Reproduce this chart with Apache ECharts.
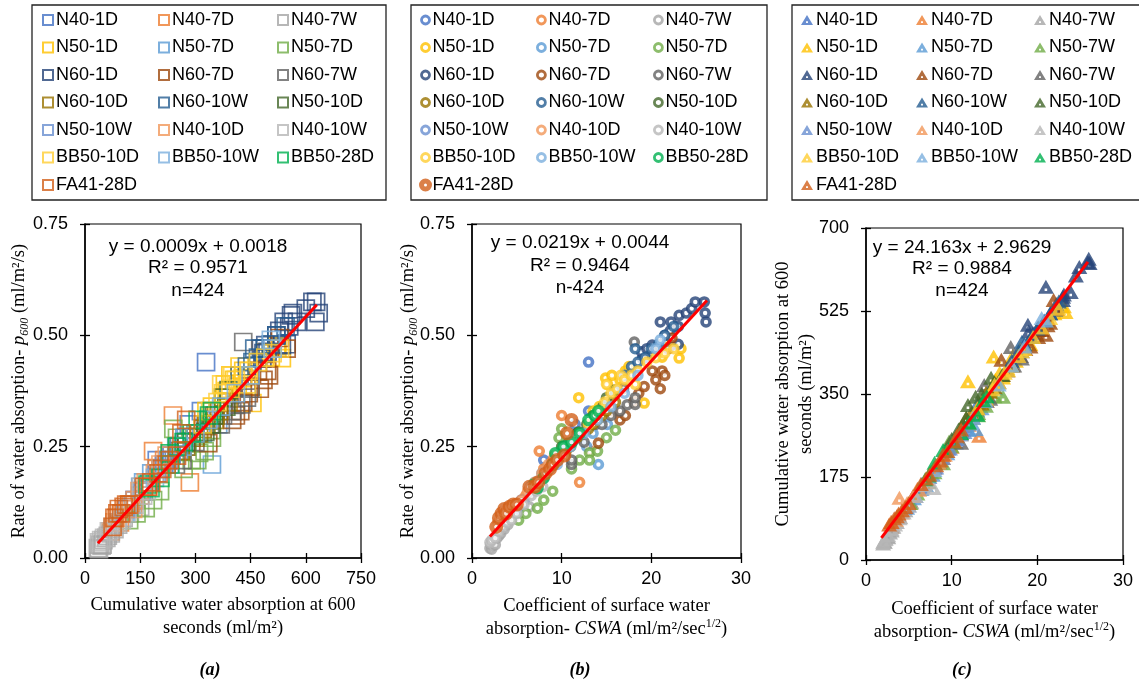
<!DOCTYPE html>
<html><head><meta charset="utf-8">
<script src="https://cdn.jsdelivr.net/npm/echarts@6/dist/echarts.min.js"></script>
<style>
html,body{margin:0;padding:0;background:#fff;}
#wrap{position:relative;width:1139px;height:686px;overflow:hidden;background:#fff;}
.pane{position:absolute;top:0;height:686px;}
</style></head>
<body>
<div id="wrap">
  <div id="pa" class="pane" style="left:0;width:390px;"></div>
  <div id="pb" class="pane" style="left:390px;width:380px;"></div>
  <div id="pc" class="pane" style="left:750px;width:389px;"></div>
</div>
<script>
// ---- series names (Excel order) ----
const SERIES_NAMES = ['N40-1D','N40-7D','N40-7W','N50-1D','N50-7D','N50-7W','N60-1D','N60-7D','N60-7W',
  'N60-10D','N60-10W','N50-10D','N50-10W','N40-10D','N40-10W','BB50-10D','BB50-10W','BB50-28D','FA41-28D'];

// ---- sample values: [CSWA (ml/m2/sec^1/2), cumulative absorption at 600 s (ml/m2), rate p600 (ml/m2/s)] ----
const N40_1D = [[5.5,135,0.13],[6.5,160,0.15],[7.2,175,0.17],[8.0,195,0.22],[8.8,215,0.21],[9.6,235,0.23],
  [10.4,255,0.24],[11.2,270,0.26],[11.5,282,0.30],[12.0,290,0.27],[13.0,329,0.44],[13.0,315,0.33],[14.0,335,0.31]];
const N40_7D = [[3.0,70,0.06],[3.8,95,0.08],[4.5,110,0.11],[5.2,125,0.12],[6.0,150,0.14],[7.0,170,0.16],
  [7.5,185,0.24],[8.0,195,0.20],[9.0,215,0.22],[10.0,239,0.32],[12.0,285,0.17],[13.2,262,0.24]];
const N40_7W = [[2.0,35,0.022],[2.1,40,0.03],[2.2,38,0.02],[2.3,45,0.028],[2.5,50,0.04],[2.6,48,0.03],
  [2.8,58,0.045],[3.0,62,0.05],[3.2,70,0.055],[3.6,80,0.065],[4.0,90,0.075],[4.6,105,0.09],[5.3,122,0.10],
  [6.4,150,0.115]];
const N50_1D = [[11.9,377,0.36],[13.5,330,0.33],[14.2,345,0.34],[14.9,429,0.404],[15.1,380,0.39],[15.6,395,0.41],
  [16.0,385,0.375],[16.5,405,0.40],[16.8,415,0.385],[17.1,430,0.42],[17.5,420,0.43],[18.0,445,0.41],
  [19.2,455,0.348],[20.1,490,0.462],[21.2,505,0.451],[22.0,520,0.475],[23.1,535,0.449],[23.3,523,0.47]];
const N50_7D = [[4.8,110,0.10],[5.6,130,0.12],[6.5,150,0.16],[7.0,158,0.17],[7.8,180,0.19],[8.6,205,0.20],
  [9.5,225,0.22],[10.5,248,0.25],[12.0,274,0.27],[12.8,276,0.25],[14.1,345,0.21],[15.1,362,0.30],[13.5,320,0.28]];
const N50_7W = [[5.2,120,0.085],[6.0,140,0.10],[7.3,165,0.112],[8.0,185,0.13],[9.0,204,0.15],[9.7,250,0.27],
  [10.0,240,0.29],[11.1,268,0.20],[12.0,290,0.22],[13.1,310,0.236],[13.1,305,0.22],[14.0,325,0.24],
  [15.0,345,0.27],[16.0,344,0.287]];
const N60_1D = [[19.0,482,0.448],[18.9,496,0.463],[19.5,478,0.47],[20.1,485,0.46],[20.1,490,0.478],[21.0,576,0.53],
  [21.5,520,0.50],[22.1,528,0.51],[22.2,540,0.53],[22.3,535,0.478],[23.0,548,0.48],[23.0,555,0.52],
  [23.1,560,0.545],[23.9,565,0.55],[24.5,600,0.56],[24.9,618,0.575],[25.9,628,0.575],[26.0,635,0.55],
  [26.1,626,0.53]];
const N60_7D = [[14.1,335,0.258],[15.8,422,0.33],[16.5,400,0.31],[17.1,410,0.32],[18.0,430,0.35],[18.6,445,0.37],
  [19.2,450,0.385],[20.1,470,0.42],[21.0,475,0.38],[21.2,495,0.42],[21.5,500,0.41],[21.9,548,0.47],
  [22.3,530,0.494],[20.5,485,0.40]];
const N60_7W = [[11.1,247,0.21],[11.1,265,0.22],[12.5,300,0.26],[13.8,369,0.30],[14.5,340,0.30],[15.5,375,0.32],
  [16.5,400,0.33],[17.3,410,0.344],[18.2,425,0.345],[18.2,440,0.36],[16.9,449,0.38],[18.1,430,0.485]];
const N60_10D = [[10.5,260,0.24],[11.0,275,0.25],[11.7,300,0.27],[12.3,310,0.28],[13.0,320,0.29],[13.5,330,0.30],
  [14.0,352,0.31],[14.5,355,0.32],[15.0,365,0.33],[16.0,390,0.35]];
const N60_10W = [[17.0,420,0.41],[17.8,440,0.43],[18.5,455,0.44],[19.3,470,0.45],[20.0,488,0.47],[20.8,505,0.48],
  [21.5,520,0.50],[22.5,545,0.52],[18.2,460,0.47]];
const N50_10D = [[10.0,255,0.25],[10.8,275,0.26],[11.7,300,0.28],[11.9,327,0.283],[12.8,344,0.30],[13.5,350,0.32],
  [14.6,384,0.34],[15.0,375,0.36],[15.9,390,0.377]];
const N50_10W = [[5.0,115,0.11],[5.8,135,0.13],[6.6,155,0.15],[7.4,175,0.17],[8.2,195,0.19],[9.0,215,0.21],
  [9.8,235,0.23],[10.6,255,0.25],[11.5,270,0.27]];
const N40_10D = [[2.9,80,0.08],[3.5,85,0.09],[3.9,131,0.11],[4.2,100,0.10],[4.8,120,0.12],[5.5,135,0.13],
  [6.2,148,0.15],[7.0,165,0.17],[7.8,190,0.19],[8.5,205,0.21],[9.2,222,0.23]];
const N40_10W = [[2.0,38,0.035],[2.2,44,0.04],[2.6,52,0.045],[3.0,65,0.06],[3.4,75,0.07],[3.9,88,0.08],
  [4.4,100,0.085],[5.0,115,0.10],[5.8,135,0.12],[6.6,158,0.14],[7.2,168,0.15],[7.9,152,0.16]];
const BB50_10D = [[13.0,320,0.30],[14.0,340,0.33],[14.8,360,0.35],[15.0,370,0.39],[15.5,375,0.37],[16.2,395,0.38],
  [16.6,400,0.41],[17.0,410,0.40],[17.8,430,0.41],[18.2,440,0.39],[18.5,445,0.42],[19.5,470,0.44],
  [20.5,490,0.45],[21.5,510,0.46],[22.5,530,0.47]];
const BB50_10W = [[8.0,190,0.18],[9.5,230,0.21],[11.0,265,0.25],[12.5,300,0.28],[14.0,335,0.31],[15.5,370,0.34],
  [17.0,410,0.37],[18.5,450,0.41],[20.5,510,0.47],[21.0,505,0.49]];
const BB50_28D = [[6.9,170,0.165],[7.3,178,0.157],[8.0,205,0.18],[9.0,232,0.21],[9.3,230,0.235],[10.2,250,0.25],
  [11.1,268,0.26],[12.0,290,0.28],[13.0,306,0.31],[13.7,337,0.32],[14.1,345,0.33]];
const FA41_28D = [[2.7,75,0.07],[3.0,80,0.09],[3.3,88,0.10],[3.6,92,0.11],[3.8,98,0.10],[4.2,105,0.115],
  [4.6,112,0.12],[5.0,120,0.12],[6.4,160,0.16],[7.0,172,0.16],[7.4,180,0.17],[8.2,200,0.19],[8.7,210,0.20],
  [9.0,222,0.21],[9.5,230,0.22],[10.3,250,0.23],[10.6,262,0.28],[11.1,275,0.31]];

const DATA = [N40_1D,N40_7D,N40_7W,N50_1D,N50_7D,N50_7W,N60_1D,N60_7D,N60_7W,N60_10D,N60_10W,
  N50_10D,N50_10W,N40_10D,N40_10W,BB50_10D,BB50_10W,BB50_28D,FA41_28D];

// ---- linear trend lines (end points of the fitted equations) ----
const TREND_A = [[35,0.0333],[630,0.5688]];
const TREND_B = [[2.0,0.0482],[26.2,0.5782]];
const TREND_C = [[1.8,46.46],[25.9,628.78]];

// ---- axis ticks ----
const TICKS_A_X = {min:0, max:750, interval:150};
const TICKS_P = {min:0, max:0.75, interval:0.25};
const TICKS_CSWA = {min:0, max:30, interval:10};
const TICKS_S = {min:0, max:700, interval:175};

// ---- equations ----
const EQ_A = ['y = 0.0009x + 0.0018','R² = 0.9571','n=424'];
const EQ_B = ['y = 0.0219x + 0.0044','R² = 0.9464','n-424'];
const EQ_C = ['y = 24.163x + 2.9629','R² = 0.9884','n=424'];

// ---- styling ----
const COLORS = ['#4472C4','#ED7D31','#A5A5A5','#FFC000','#5B9BD5','#70AD47','#264478','#9E480E','#636363',
  '#997300','#255E91','#43682B','#698ED0','#F1975A','#B7B7B7','#FFCD33','#7CAFDD','#00B050','#D2601A'];
const LEG_COLS = [[0,3,6,9,12,15,18],[1,4,7,10,13,16],[2,5,8,11,14,17]];
const SANS = '"Liberation Sans", Arial, sans-serif';
const SERIF = '"Liberation Serif", "Times New Roman", serif';
const TRI = 'path://M0,0 L10,17 L-10,17 Z M-1.6,10.5 L-1.6,13.5 L1.6,13.5 L1.6,10.5 Z';

const nameStyle = {
  fontFamily: SERIF, fontSize: 18.5, color: '#000', lineHeight: 23,
  rich: {
    it: {fontFamily: SERIF, fontSize: 18.5, fontStyle: 'italic', color:'#000'},
    sub: {fontFamily: SERIF, fontSize: 12, fontStyle: 'italic', color:'#000', verticalAlign: 'bottom'},
    sup: {fontFamily: SERIF, fontSize: 12, color:'#000', verticalAlign: 'top'}
  }
};

function axisPair(t, isX, fmt, name, nameGap, labelMargin) {
  const main = Object.assign({
    type: 'value', position: isX ? 'bottom' : 'left',
    axisLine: {show: true, onZero: false, lineStyle: {color: '#000', width: 1.5}},
    axisTick: {show: true, inside: false, length: 5, lineStyle: {color: '#000', width: 1.3}},
    axisLabel: {show: true, margin: labelMargin, fontFamily: SANS, fontSize: 18, color: '#000', formatter: fmt,
      showMinLabel: true, showMaxLabel: true},
    splitLine: {show: false},
    name: name, nameLocation: 'middle', nameGap: nameGap, nameTextStyle: nameStyle,
    nameRotate: isX ? 0 : 90, nameMoveOverlap: false
  }, t);
  const dup = Object.assign({
    type: 'value', position: isX ? 'bottom' : 'left',
    axisLine: {show: false}, axisTick: {show: true, inside: true, length: 5, lineStyle: {color: '#000', width: 1.3}},
    axisLabel: {show: false}, splitLine: {show: false}
  }, t);
  return [main, dup];
}

function makeChart(el, P) {
  const chart = echarts.init(el, null, {renderer: 'canvas'});
  const series = SERIES_NAMES.map((n, i) => ({
    name: n, type: 'scatter', xAxisIndex: 0, yAxisIndex: 0,
    data: DATA[i].map(r => [r[P.xi], r[P.yi]]),
    symbol: P.symbol, symbolSize: P.size(i), itemStyle: P.style(i),
    emphasis: {disabled: true}, z: 2, animation: false
  }));
  series.push({type: 'line', data: P.trend, symbol: 'none', silent: true, z: 6, animation: false,
    lineStyle: {color: '#FF0000', width: 3}, xAxisIndex: 0, yAxisIndex: 0});
  const legends = LEG_COLS.map((col, k) => ({
    orient: 'vertical', left: P.legX[k] - P.legIcon[0] / 2, top: 10, padding: 0, itemGap: 7.5,
    itemWidth: P.legIcon[0], itemHeight: P.legIcon[1], selectedMode: false,
    data: col.map(i => ({name: SERIES_NAMES[i], itemStyle: P.legStyle(i)})),
    formatter: P.legFmt,
    textStyle: {fontFamily: SANS, fontSize: 18, color: '#000', lineHeight: 20, padding: [0,0,0,-2]}
  }));
  const graphic = [
    {type: 'rect', shape: {x: P.box[0], y: P.box[1], width: P.box[2], height: P.box[3]},
      style: {fill: 'none', stroke: '#222', lineWidth: 1.3}, silent: true}
  ];
  P.eq.forEach((t, j) => graphic.push({type: 'text', x: P.eqX, y: P.eqY[j], silent: true, z: 10,
    style: {text: t, fill: '#000', font: '19px ' + SANS, textAlign: 'center', textVerticalAlign: 'middle',
      align: 'center', verticalAlign: 'middle'}}));
  graphic.push({type: 'text', x: P.lab[0], y: P.lab[1], silent: true,
    style: {text: P.lab[2], fill: '#000', font: 'italic bold 18px ' + SERIF, textAlign: 'center',
      textVerticalAlign: 'middle', align: 'center', verticalAlign: 'middle'}});
  chart.setOption({
    animation: false, backgroundColor: 'transparent',
    grid: {left: P.grid[0], top: P.grid[1], width: P.grid[2], height: P.grid[3], show: true,
      borderColor: '#000', borderWidth: 1.2, backgroundColor: 'transparent', containLabel: false,
      outerBoundsMode: 'none'},
    xAxis: axisPair(P.tx, true, P.fx, P.nx, P.gx, 12),
    yAxis: axisPair(P.ty, false, P.fy, P.ny, P.gy, 17),
    legend: legends, graphic: graphic, series: series
  });
  return chart;
}

const fmt2 = v => v.toFixed(2);
const fmt0 = v => String(Math.round(v));
const fixDup = n => (n === 'N50-7W' ? 'N50-7D' : n);

makeChart(document.getElementById('pa'), {
  xi: 1, yi: 2, trend: TREND_A, tx: TICKS_A_X, ty: TICKS_P, fx: fmt0, fy: fmt2,
  nx: 'Cumulative water absorption at 600\nseconds (ml/m²)', gx: 36,
  ny: 'Rate of water absorption- {it|p}{sub|600} (ml/m²/s)', gy: 54,
  grid: [85, 224, 276, 334], legX: [47, 163, 282], legIcon: [10, 10], legFmt: fixDup,
  box: [32, 5, 354, 195], eq: EQ_A, eqX: 198, eqY: [247, 268, 291], lab: [210, 670, '(a)'],
  symbol: 'rect', size: i => 17,
  style: i => ({color: 'rgba(255,255,255,0)', borderColor: COLORS[i], borderWidth: 1.7}),
  legStyle: i => ({color: '#fff', borderColor: COLORS[i], borderWidth: 2})
});

makeChart(document.getElementById('pb'), {
  xi: 0, yi: 2, trend: TREND_B, tx: TICKS_CSWA, ty: TICKS_P, fx: fmt0, fy: fmt2,
  nx: 'Coefficient of surface water\nabsorption- {it|CSWA} (ml/m²/sec{sup|1/2})', gx: 37,
  ny: 'Rate of water absorption- {it|p}{sub|600} (ml/m²/s)', gy: 52,
  grid: [82, 224, 269, 334], legX: [33, 150, 267], legIcon: [8, 8], legFmt: fixDup,
  box: [21, 5, 356, 195], eq: EQ_B, eqX: 190, eqY: [243, 266, 288], lab: [190, 670, '(b)'],
  symbol: 'circle',
  size: i => (i === 18 ? 9 : (i === 17 ? 8.5 : 8)),
  style: i => ({color: '#fff', borderColor: COLORS[i], borderWidth: (i === 18 ? 5 : (i === 17 ? 4.2 : 3.6))}),
  legStyle: i => ({color: '#fff', borderColor: COLORS[i], borderWidth: (i === 18 ? 5 : 2.8)})
});

makeChart(document.getElementById('pc'), {
  xi: 0, yi: 1, trend: TREND_C, tx: TICKS_CSWA, ty: TICKS_S, fx: fmt0, fy: fmt0,
  nx: 'Coefficient of surface water\nabsorption- {it|CSWA} (ml/m²/sec{sup|1/2})', gx: 38,
  ny: 'Cumulative water absorption at 600\nseconds (ml/m²)', gy: 48,
  grid: [116, 228, 257, 332], legX: [57, 172, 290], legIcon: [12, 11], legFmt: n => n,
  box: [42, 5, 360, 195], eq: EQ_C, eqX: 212, eqY: [248, 269, 291], lab: [212, 670, '(c)'],
  symbol: TRI, size: i => [16, 14],
  style: i => ({color: COLORS[i]}),
  legStyle: i => ({color: COLORS[i]})
});
</script>
</body></html>
